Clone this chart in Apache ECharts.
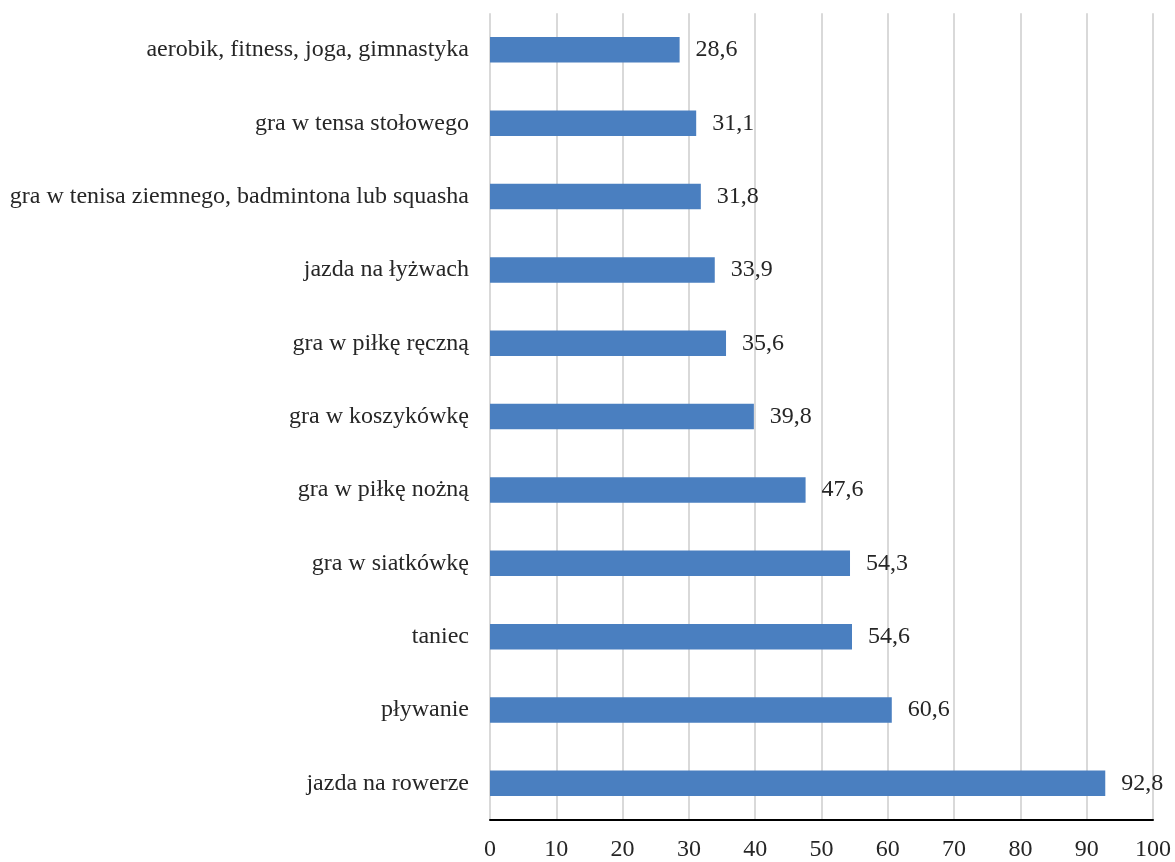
<!DOCTYPE html>
<html><head><meta charset="utf-8">
<script src="https://cdn.jsdelivr.net/npm/echarts@6/dist/echarts.min.js"></script>
<style>html,body{margin:0;padding:0;background:#fff}#c{width:1175px;height:862px}</style>
</head><body><div id="c"></div>
<script>
const categories = ["jazda na rowerze","pływanie","taniec","gra w siatkówkę","gra w piłkę nożną","gra w koszykówkę","gra w piłkę ręczną","jazda na łyżwach","gra w tenisa ziemnego, badmintona lub squasha","gra w tensa stołowego","aerobik, fitness, joga, gimnastyka"];
const values = [92.8,60.6,54.6,54.3,47.6,39.8,35.6,33.9,31.8,31.1,28.6];
const xTicks = [0,10,20,30,40,50,60,70,80,90,100];
const font = "Liberation Serif";
const chart = echarts.init(document.getElementById('c'), null, {renderer:'canvas'});
chart.setOption({
  animation:false,
  backgroundColor:'#fff',
  grid:{left:490,right:22,top:13.2,bottom:38.4,containLabel:false},
  xAxis:{type:'value',min:xTicks[0],max:xTicks[xTicks.length-1],interval:10,
    axisLine:{show:true,onZero:false,lineStyle:{color:'#000',width:2}},axisTick:{show:false},
    splitLine:{show:true,lineStyle:{color:'#d9d9d9',width:2}},
    axisLabel:{fontFamily:font,fontSize:24,color:'#262626',margin:18}},
  yAxis:{type:'category',data:categories,
    axisLine:{show:false},
    axisTick:{show:false},
    axisLabel:{fontFamily:font,fontSize:24,color:'#262626',margin:21}},
  series:[{type:'bar',data:values,barWidth:25.5,
    itemStyle:{color:'#4a7fc0'},
    label:{show:true,position:'right',distance:16,fontFamily:font,fontSize:24,color:'#262626',
      formatter:p=>String(p.value.toFixed(1)).replace('.',',')}}]
});
</script></body></html>
